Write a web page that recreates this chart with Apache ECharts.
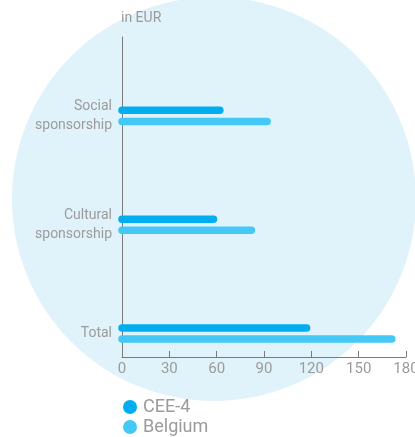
<!DOCTYPE html>
<html>
<head>
<meta charset="utf-8">
<script src="https://cdn.jsdelivr.net/npm/echarts@6/dist/echarts.min.js"></script>
<style>
  html, body { margin: 0; padding: 0; background: #ffffff; }
  #chart { width: 415px; height: 437px; }
</style>
</head>
<body>
<div id="chart"></div>
<script>
// Sponsorship spending per person, in EUR
const categories = ['Total', 'Cultural\nsponsorship', 'Social\nsponsorship'];
const seriesNames = ['CEE-4', 'Belgium'];
const cee4Values = [117, 58, 62];
const belgiumValues = [171, 82, 92];
const xTicks = [0, 30, 60, 90, 120, 150, 180];

const FONT = "'Roboto', sans-serif";
const TEXT = '#9b9b9b';
const AXIS = '#7a7a7a';
const COLORS = ['#00aeef', '#44c8f5'];
const BAR_W = 7.5;
const BAR_SHIFT = [-5.6, 5.6];

function pillRenderer(idx) {
  return function (params, api) {
    const pos = api.value(1);
    const a = api.coord([0, pos]);
    const b = api.coord([api.value(0), pos]);
    const dy = BAR_SHIFT[idx];
    return {
      type: 'line',
      shape: { x1: a[0], y1: a[1] + dy, x2: b[0], y2: b[1] + dy },
      style: { stroke: COLORS[idx], lineWidth: BAR_W, lineCap: 'round' }
    };
  };
}

function toPoints(values) {
  return values.map((v, i) => [v, i]);
}

// one stacked legend entry per series
function legendEntry(name, top) {
  return {
    orient: 'vertical',
    left: 123,
    top: top,
    padding: 0,
    icon: 'circle',
    itemWidth: 14,
    itemHeight: 14,
    data: [name],
    textStyle: { color: TEXT, fontSize: 18, fontFamily: FONT, padding: [0, 0, 0, 1] }
  };
}

const chart = echarts.init(document.getElementById('chart'), null, { renderer: 'canvas' });

chart.setOption({
  animation: false,
  textStyle: { fontFamily: FONT },
  graphic: [
    {
      type: 'circle',
      z: -10,
      silent: true,
      shape: { cx: 214, cy: 199, r: 202 },
      style: { fill: '#e0f2fa' }
    },
    {
      type: 'text',
      left: 121,
      top: 11,
      style: { text: 'in EUR', fill: TEXT, font: '14px ' + FONT }
    }
  ],
  legend: [legendEntry(seriesNames[0], 398), legendEntry(seriesNames[1], 418)],
  grid: { left: 122, right: 9, top: 37, bottom: 80, containLabel: false, outerBoundsMode: 'none' },
  xAxis: {
    type: 'value',
    min: xTicks[0],
    max: xTicks[xTicks.length - 1],
    interval: xTicks[1] - xTicks[0],
    splitLine: { show: false },
    axisLine: { show: true, onZero: false, lineStyle: { color: AXIS, width: 1 } },
    axisTick: { show: true, inside: true, length: 6, lineStyle: { color: AXIS } },
    axisLabel: { color: TEXT, fontSize: 15, margin: 5, fontFamily: FONT }
  },
  yAxis: {
    type: 'value',
    min: -0.216,
    max: 2.726,
    splitLine: { show: false },
    axisLine: { show: true, onZero: false, lineStyle: { color: AXIS, width: 1 } },
    axisTick: { show: false },
    axisLabel: {
      customValues: categories.map((c, i) => i),
      formatter: (v) => (Number.isInteger(v) && categories[v] !== undefined ? categories[v] : ''),
      color: TEXT,
      fontSize: 14,
      lineHeight: 19,
      margin: 10,
      align: 'right',
      fontFamily: FONT
    }
  },
  series: [
    {
      name: seriesNames[0],
      type: 'custom',
      renderItem: pillRenderer(0),
      itemStyle: { color: COLORS[0] },
      encode: { x: 0, y: 1 },
      data: toPoints(cee4Values)
    },
    {
      name: seriesNames[1],
      type: 'custom',
      renderItem: pillRenderer(1),
      itemStyle: { color: COLORS[1] },
      encode: { x: 0, y: 1 },
      data: toPoints(belgiumValues)
    }
  ]
});
</script>
</body>
</html>
